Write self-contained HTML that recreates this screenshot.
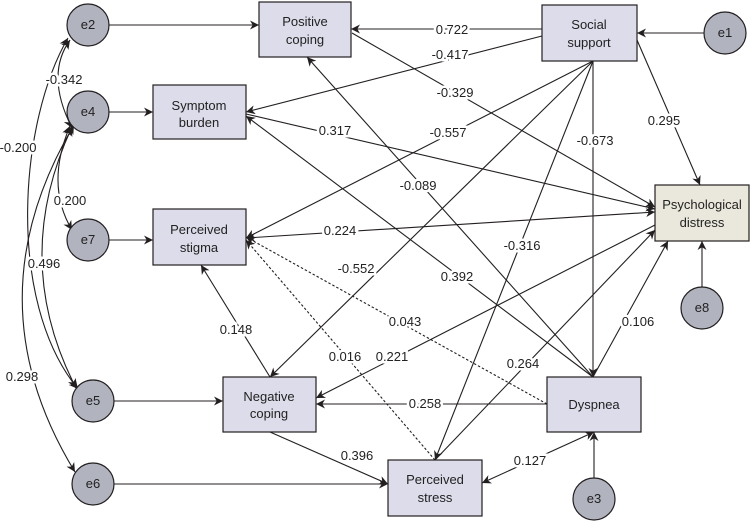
<!DOCTYPE html>
<html><head><meta charset="utf-8"><style>
html,body{margin:0;padding:0;background:#fff;}
svg{display:block;}
text{font-family:"Liberation Sans",sans-serif;font-size:13px;fill:#222;}
.lb{paint-order:stroke;stroke:#fff;stroke-width:5px;}
</style></head><body>
<svg width="750" height="522" viewBox="0 0 750 522" xmlns="http://www.w3.org/2000/svg">
<defs>
<marker id="a" viewBox="0 0 10 10" refX="10" refY="5" markerWidth="9" markerHeight="9" orient="auto-start-reverse" markerUnits="userSpaceOnUse"><path d="M0,0 L10,5 L0,10 L3,5 z" fill="#231f20"/></marker>
</defs>
<g stroke="#231f20" stroke-width="1.1" fill="none">
<line x1="109" y1="25" x2="259" y2="25" marker-end="url(#a)"/>
<line x1="109" y1="112" x2="153" y2="112" marker-end="url(#a)"/>
<line x1="109" y1="240" x2="153" y2="240" marker-end="url(#a)"/>
<line x1="114" y1="401" x2="223" y2="401" marker-end="url(#a)"/>
<line x1="114" y1="484" x2="388" y2="484" marker-end="url(#a)"/>
<line x1="704" y1="33" x2="637" y2="33" marker-end="url(#a)"/>
<line x1="702" y1="287" x2="702" y2="241" marker-end="url(#a)"/>
<line x1="594" y1="478" x2="594" y2="432" marker-end="url(#a)"/>
<line x1="542" y1="29" x2="351" y2="29" marker-end="url(#a)"/>
<line x1="542" y1="36" x2="246" y2="112" marker-end="url(#a)"/>
<line x1="352" y1="33" x2="655" y2="207" marker-end="url(#a)"/>
<line x1="637" y1="40" x2="700" y2="185" marker-end="url(#a)"/>
<line x1="593" y1="61" x2="246" y2="238" marker-end="url(#a)"/>
<line x1="593" y1="61" x2="593" y2="377" marker-end="url(#a)"/>
<line x1="593" y1="61" x2="435" y2="460" marker-end="url(#a)"/>
<line x1="593" y1="61" x2="270" y2="377" marker-end="url(#a)"/>
<line x1="246" y1="114" x2="655" y2="209" marker-end="url(#a)"/>
<line x1="593" y1="377" x2="246" y2="116" marker-end="url(#a)"/>
<line x1="593" y1="377" x2="307" y2="57" marker-end="url(#a)"/>
<line x1="655" y1="212" x2="246" y2="238" marker-end="url(#a)" marker-start="url(#a)"/>
<line x1="270" y1="377" x2="201" y2="265" marker-end="url(#a)"/>
<line x1="655" y1="225" x2="316" y2="398" marker-end="url(#a)"/>
<line x1="547" y1="404" x2="316" y2="404" marker-end="url(#a)"/>
<line x1="547" y1="404" x2="246" y2="237" marker-end="url(#a)" stroke-dasharray="2.5,2"/>
<line x1="435" y1="460" x2="246" y2="240" marker-end="url(#a)" stroke-dasharray="2.5,2"/>
<line x1="435" y1="460" x2="655" y2="230" marker-end="url(#a)"/>
<line x1="593" y1="377" x2="668" y2="241" marker-end="url(#a)"/>
<line x1="594" y1="432" x2="482" y2="483" marker-end="url(#a)" marker-start="url(#a)"/>
<line x1="270" y1="432" x2="388" y2="484" marker-end="url(#a)"/>
<path d="M70,40 Q45,75 72,128" marker-end="url(#a)" marker-start="url(#a)"/>
<path d="M70,126 Q45,185 72,230" marker-end="url(#a)" marker-start="url(#a)"/>
<path d="M68,38 C20,120 5,300 78,389" marker-end="url(#a)" marker-start="url(#a)"/>
<path d="M72,127 Q10,260 76,388" marker-end="url(#a)" marker-start="url(#a)"/>
<path d="M74,125 Q-30,300 75,472" marker-end="url(#a)" marker-start="url(#a)"/>
</g>
<g fill="#b1b3bf" stroke="#231f20" stroke-width="1.2">
<circle cx="88" cy="25" r="21"/><circle cx="88" cy="112" r="21"/><circle cx="88" cy="240" r="21"/>
<circle cx="93" cy="401" r="21"/><circle cx="93" cy="484" r="21"/><circle cx="725" cy="33" r="21"/>
<circle cx="702" cy="308" r="21"/><circle cx="594" cy="499" r="21"/>
</g>
<g text-anchor="middle">
<text x="88" y="29">e2</text><text x="88" y="116">e4</text><text x="88" y="244">e7</text>
<text x="93" y="405">e5</text><text x="93" y="488">e6</text><text x="725" y="37">e1</text>
<text x="702" y="312">e8</text><text x="594" y="503">e3</text>
</g>
<g fill="#dcdcea" stroke="#231f20" stroke-width="1.2">
<rect x="259" y="2" width="92" height="55"/>
<rect x="542" y="5" width="95" height="56"/>
<rect x="153" y="85" width="93" height="54"/>
<rect x="153" y="209" width="93" height="56"/>
<rect x="223" y="377" width="93" height="55"/>
<rect x="547" y="377" width="94" height="55"/>
<rect x="388" y="460" width="94" height="56"/>
<rect x="655" y="185" width="94" height="56" fill="#eae8dc"/>
</g>
<g text-anchor="middle">
<text x="305" y="26">Positive</text><text x="305" y="44">coping</text>
<text x="589" y="29">Social</text><text x="589" y="47">support</text>
<text x="199" y="110">Symptom</text><text x="199" y="127">burden</text>
<text x="199" y="234">Perceived</text><text x="199" y="252">stigma</text>
<text x="269" y="401">Negative</text><text x="269" y="418">coping</text>
<text x="594" y="409">Dyspnea</text>
<text x="435" y="484">Perceived</text><text x="435" y="502">stress</text>
<text x="702" y="209">Psychological</text><text x="702" y="227">distress</text>
</g>
<g text-anchor="middle">
<text class="lb" x="452" y="34">0.722</text>
<text class="lb" x="450" y="59">-0.417</text>
<text class="lb" x="455" y="97">-0.329</text>
<text class="lb" x="664" y="125">0.295</text>
<text class="lb" x="448" y="137">-0.557</text>
<text class="lb" x="595" y="145">-0.673</text>
<text class="lb" x="335" y="135">0.317</text>
<text class="lb" x="418" y="190">-0.089</text>
<text class="lb" x="340" y="235">0.224</text>
<text class="lb" x="522" y="250">-0.316</text>
<text class="lb" x="356" y="273">-0.552</text>
<text class="lb" x="457" y="281">0.392</text>
<text class="lb" x="405" y="326">0.043</text>
<text class="lb" x="638" y="326">0.106</text>
<text class="lb" x="236" y="334">0.148</text>
<text class="lb" x="345" y="361">0.016</text>
<text class="lb" x="392" y="361">0.221</text>
<text class="lb" x="523" y="368">0.264</text>
<text class="lb" x="425" y="408">0.258</text>
<text class="lb" x="357" y="460">0.396</text>
<text class="lb" x="530" y="465">0.127</text>
<text class="lb" x="64" y="84">-0.342</text>
<text class="lb" x="70" y="205">0.200</text>
<text class="lb" x="18" y="152">-0.200</text>
<text class="lb" x="44" y="268">0.496</text>
<text class="lb" x="22" y="381">0.298</text>
</g>
</svg>
</body></html>
